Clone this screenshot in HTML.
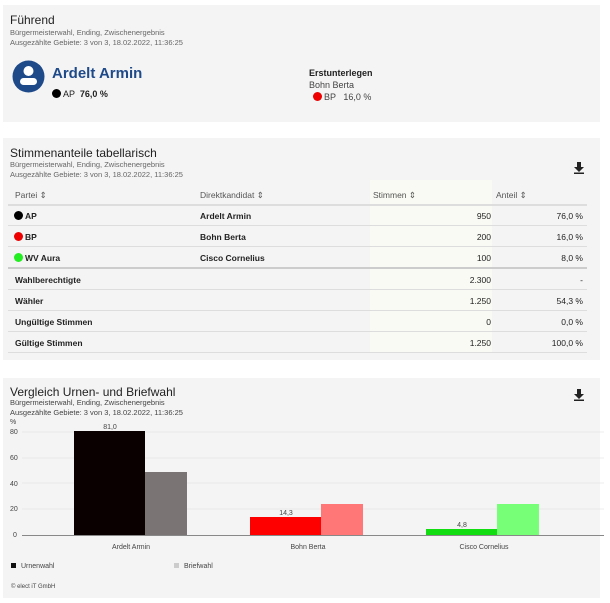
<!DOCTYPE html>
<html><head><meta charset="utf-8"><style>
body{margin:0;width:610px;height:603px;background:#fff;font-family:"Liberation Sans",sans-serif;color:#222;position:relative;overflow:hidden}
.p{position:absolute;left:3px;width:597px;background:#f4f4f4}
.a{position:absolute;white-space:nowrap}
.t{font-size:12px;color:#222}
.s{font-size:7.5px;color:#666;line-height:10px}
.dot{display:inline-block;width:9px;height:9px;border-radius:50%;vertical-align:-1px;margin-right:2px}
.r{position:absolute;left:8px;width:579px;height:20px;border-bottom:1px solid #ddd;font-size:8.5px;font-weight:bold}
.r>span{position:absolute;top:6px}
.dl{position:absolute;width:9px;height:11px}
</style></head><body>
<div class="p" style="top:5px;height:117px"></div>
<div class="a t" style="left:10px;top:13px">Führend</div>
<div class="a s" style="left:10px;top:28px">Bürgermeisterwahl, Ending, Zwischenergebnis<br>Ausgezählte Gebiete: 3 von 3, 18.02.2022, 11:36:25</div>
<svg class="a" style="left:12px;top:60px" width="33" height="33"><circle cx="16.5" cy="16.5" r="16" fill="#1e4a8a"/><circle cx="16.5" cy="11" r="5" fill="#fff"/><rect x="8" y="18" width="17" height="7" rx="3.5" fill="#fff"/></svg>
<div class="a" style="left:52px;top:65px;font-size:15px;font-weight:bold;color:#1e4a8a">Ardelt Armin</div>
<div class="a" style="left:52px;top:89px;font-size:9px"><span class="dot" style="background:#000"></span>AP &nbsp;<b>76,0 %</b></div>
<div class="a" style="left:309px;top:68px;font-size:9px;font-weight:bold">Erstunterlegen</div>
<div class="a" style="left:309px;top:80px;font-size:9px;color:#444">Bohn Berta</div>
<div class="a" style="left:313px;top:92px;font-size:9px;color:#444"><span class="dot" style="background:#e00"></span>BP &nbsp; 16,0 %</div>

<div class="p" style="top:138px;height:222px"></div>
<div class="a t" style="left:10px;top:146px">Stimmenanteile tabellarisch</div>
<div class="a s" style="left:10px;top:160px">Bürgermeisterwahl, Ending, Zwischenergebnis<br>Ausgezählte Gebiete: 3 von 3, 18.02.2022, 11:36:25</div>
<svg class="a" style="left:574px;top:162px" width="10" height="12"><path d="M3 0h4v5h3l-5 5-5-5h3z" fill="#222"/><rect x="0" y="10.5" width="10" height="1.5" fill="#222"/></svg>
<div class="a" style="left:370px;top:180px;width:122px;height:172px;background:#fafaf4"></div>
<div class="r" style="top:184px;border-bottom:2px solid #ddd;font-weight:normal;color:#555"><span style="left:7px">Partei ⇕</span><span style="left:192px">Direktkandidat ⇕</span><span style="left:365px">Stimmen ⇕</span><span style="left:488px">Anteil ⇕</span></div>
<div class="r" style="top:205px"><span style="left:6px"><i class="dot" style="background:#000"></i>AP</span><span style="left:192px">Ardelt Armin</span><span style="right:96px;font-weight:normal">950</span><span style="right:4px;font-weight:normal">76,0 %</span></div>
<div class="r" style="top:226px"><span style="left:6px"><i class="dot" style="background:#e00"></i>BP</span><span style="left:192px">Bohn Berta</span><span style="right:96px;font-weight:normal">200</span><span style="right:4px;font-weight:normal">16,0 %</span></div>
<div class="r" style="top:247px;border-bottom:2px solid #ccc"><span style="left:6px"><i class="dot" style="background:#2e2"></i>WV Aura</span><span style="left:192px">Cisco Cornelius</span><span style="right:96px;font-weight:normal">100</span><span style="right:4px;font-weight:normal">8,0 %</span></div>
<div class="r" style="top:269px"><span style="left:7px">Wahlberechtigte</span><span style="right:96px;font-weight:normal">2.300</span><span style="right:4px;font-weight:normal">-</span></div>
<div class="r" style="top:290px"><span style="left:7px">Wähler</span><span style="right:96px;font-weight:normal">1.250</span><span style="right:4px;font-weight:normal">54,3 %</span></div>
<div class="r" style="top:311px"><span style="left:7px">Ungültige Stimmen</span><span style="right:96px;font-weight:normal">0</span><span style="right:4px;font-weight:normal">0,0 %</span></div>
<div class="r" style="top:332px"><span style="left:7px">Gültige Stimmen</span><span style="right:96px;font-weight:normal">1.250</span><span style="right:4px;font-weight:normal">100,0 %</span></div>

<div class="p" style="top:378px;height:220px"></div>
<div class="a t" style="left:10px;top:385px">Vergleich Urnen- und Briefwahl</div>
<div class="a s" style="left:10px;top:398px;color:#444">Bürgermeisterwahl, Ending, Zwischenergebnis<br>Ausgezählte Gebiete: 3 von 3, 18.02.2022, 11:36:25</div>
<svg class="a" style="left:574px;top:389px" width="10" height="12"><path d="M3 0h4v5h3l-5 5-5-5h3z" fill="#222"/><rect x="0" y="10.5" width="10" height="1.5" fill="#222"/></svg>
<svg class="a" style="left:0;top:0" width="610" height="603" font-family="Liberation Sans" font-size="7" fill="#444">
<text x="10" y="424">%</text>
<g stroke="#e6e6e6" stroke-width="0.7"><line x1="22" x2="604" y1="432" y2="432"/><line x1="22" x2="604" y1="458" y2="458"/><line x1="22" x2="604" y1="483" y2="483"/><line x1="22" x2="604" y1="509" y2="509"/></g>
<text x="10" y="434">80</text><text x="10" y="460">60</text><text x="10" y="486">40</text><text x="10" y="511">20</text><text x="13" y="537">0</text>
<rect x="74" y="431" width="71" height="104" fill="#0a0000"/>
<rect x="145" y="472" width="42" height="63" fill="#7a7474"/>
<rect x="250" y="517" width="71" height="18" fill="#f00"/>
<rect x="321" y="504" width="42" height="31" fill="#f77"/>
<rect x="426" y="529" width="71" height="6" fill="#1d1"/>
<rect x="497" y="504" width="42" height="31" fill="#7f7"/>
<line x1="22" x2="604" y1="535.5" y2="535.5" stroke="#888" stroke-width="1"/>
<text x="110" y="429" text-anchor="middle">81,0</text>
<text x="286" y="515" text-anchor="middle">14,3</text>
<text x="462" y="527" text-anchor="middle">4,8</text>
<text x="131" y="549" text-anchor="middle">Ardelt Armin</text>
<text x="308" y="549" text-anchor="middle">Bohn Berta</text>
<text x="484" y="549" text-anchor="middle">Cisco Cornelius</text>
<rect x="11" y="563" width="5" height="5" fill="#111"/><text x="21" y="568">Urnenwahl</text>
<rect x="174" y="563" width="5" height="5" fill="#ccc"/><text x="184" y="568">Briefwahl</text>
<text x="11" y="588" font-size="6">© elect iT GmbH</text>
</svg>
</body></html>
